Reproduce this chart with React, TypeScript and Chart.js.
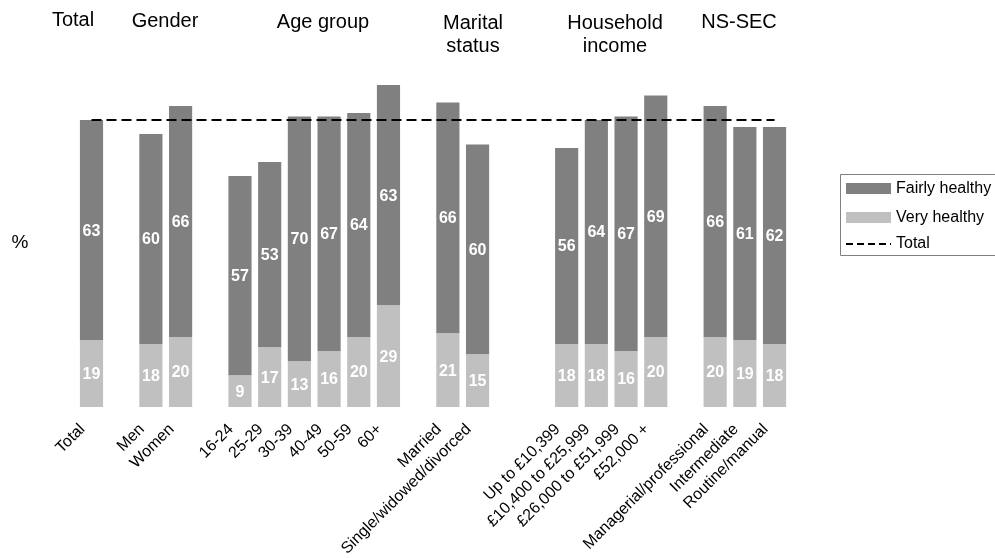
import React, { useEffect, useRef } from "react";
import { Chart, registerables } from "chart.js";

Chart.register(...registerables);

// Categories ('' = spacer slot between groups)
const categories: string[] = [
  "Total", "",
  "Men", "Women", "",
  "16-24", "25-29", "30-39", "40-49", "50-59", "60+", "",
  "Married", "Single/widowed/divorced", "", "",
  "Up to £10,399", "£10,400 to £25,999", "£26,000 to £51,999", "£52,000 +", "",
  "Managerial/professional", "Intermediate", "Routine/manual",
];

const veryHealthy: (number | null)[] = [
  19, null,
  18, 20, null,
  9, 17, 13, 16, 20, 29, null,
  21, 15, null, null,
  18, 18, 16, 20, null,
  20, 19, 18,
];

const fairlyHealthy: (number | null)[] = [
  63, null,
  60, 66, null,
  57, 53, 70, 67, 64, 63, null,
  66, 60, null, null,
  56, 64, 67, 69, null,
  66, 61, 62,
];

const totalLevel = 82;
const totalLine: number[] = categories.map(() => totalLevel);

const groupHeaders: { lines: string[]; x: number; y: number }[] = [
  { lines: ["Total"], x: 73, y: 26 },
  { lines: ["Gender"], x: 165, y: 27 },
  { lines: ["Age group"], x: 323, y: 28 },
  { lines: ["Marital", "status"], x: 473, y: 29 },
  { lines: ["Household", "income"], x: 615, y: 29 },
  { lines: ["NS-SEC"], x: 739, y: 28 },
];

const DARK = "#808080";
const LIGHT = "#c0c0c0";
const FONT = "'Liberation Sans', Arial, sans-serif";

const overlayPlugin = {
  id: "overlay",
  afterDatasetsDraw(chart: any) {
    const ctx = chart.ctx;
    ctx.save();
    ctx.fillStyle = "#ffffff";
    ctx.font = `bold 16px ${FONT}`;
    ctx.textAlign = "center";
    ctx.textBaseline = "middle";
    [0, 1].forEach((di) => {
      const meta = chart.getDatasetMeta(di);
      const data = chart.data.datasets[di].data;
      meta.data.forEach((el: any, i: number) => {
        const v = data[i];
        if (v == null) return;
        const p = el.getProps(["x", "y", "base"], true);
        ctx.fillText(String(v), p.x, (p.y + p.base) / 2 + 1);
      });
    });
    ctx.restore();
  },
  afterDraw(chart: any) {
    const ctx = chart.ctx;
    ctx.save();
    ctx.fillStyle = "#000";
    ctx.font = `20px ${FONT}`;
    ctx.textAlign = "center";
    ctx.textBaseline = "alphabetic";
    groupHeaders.forEach((h) => {
      h.lines.forEach((ln, k) => ctx.fillText(ln, h.x, h.y + k * 23));
    });
    // % axis label
    ctx.font = `19px ${FONT}`;
    ctx.textBaseline = "middle";
    ctx.fillText("%", 20, 243);

    // legend
    ctx.strokeStyle = "#808080";
    ctx.lineWidth = 1;
    ctx.beginPath();
    ctx.moveTo(1000, 174.5);
    ctx.lineTo(840.5, 174.5);
    ctx.lineTo(840.5, 255.5);
    ctx.lineTo(1000, 255.5);
    ctx.stroke();
    ctx.fillStyle = DARK;
    ctx.fillRect(846, 183, 45, 11);
    ctx.fillStyle = LIGHT;
    ctx.fillRect(846, 212, 45, 11);
    ctx.strokeStyle = "#000";
    ctx.lineWidth = 2;
    ctx.setLineDash([7, 4]);
    ctx.beginPath();
    ctx.moveTo(846, 244);
    ctx.lineTo(891, 244);
    ctx.stroke();
    ctx.setLineDash([]);
    ctx.fillStyle = "#000";
    ctx.font = `16px ${FONT}`;
    ctx.textAlign = "left";
    ctx.textBaseline = "middle";
    ctx.fillText("Fairly healthy", 896, 189);
    ctx.fillText("Very healthy", 896, 218);
    ctx.fillText("Total", 896, 244);
    ctx.restore();
  },
};

export default function App() {
  const ref = useRef<HTMLCanvasElement | null>(null);
  useEffect(() => {
    if (!ref.current) return;
    const chart = new Chart(ref.current, {
      type: "bar",
      data: {
        labels: categories,
        datasets: [
          {
            label: "Very healthy",
            data: veryHealthy,
            backgroundColor: LIGHT,
            stack: "bars",
            order: 1,
            barPercentage: 0.78,
            categoryPercentage: 1,
          },
          {
            label: "Fairly healthy",
            data: fairlyHealthy,
            backgroundColor: DARK,
            stack: "bars",
            order: 2,
            barPercentage: 0.78,
            categoryPercentage: 1,
          },
          {
            type: "line",
            label: "Total",
            data: totalLine,
            borderColor: "#000",
            borderWidth: 2,
            borderDash: [10, 5],
            pointRadius: 0,
            fill: false,
            stack: "line",
            order: 0,
          } as any,
        ],
      },
      options: {
        animation: false,
        responsive: true,
        maintainAspectRatio: false,
        layout: { padding: { left: 76.65, right: 205.6, top: 57, bottom: 0 } },
        plugins: { legend: { display: false }, tooltip: { enabled: false } },
        scales: {
          x: {
            stacked: true,
            offset: true,
            grid: { display: false, drawTicks: false },
            border: { display: false },
            ticks: {
              autoSkip: false,
              minRotation: 45,
              maxRotation: 45,
              color: "#000",
              padding: 13,
              labelOffset: -9,
              font: { family: FONT, size: 16 },
            },
            afterFit: (s: any) => {
              s.height = 151;
            },
          },
          y: {
            stacked: true,
            display: false,
            min: 0,
            max: 100,
          },
        },
      },
      plugins: [overlayPlugin],
    });
    return () => chart.destroy();
  }, []);
  return (
    <div style={{ position: "fixed", left: 0, top: 0, width: 995, height: 558, background: "#fff" }}>
      <canvas ref={ref} />
    </div>
  );
}
